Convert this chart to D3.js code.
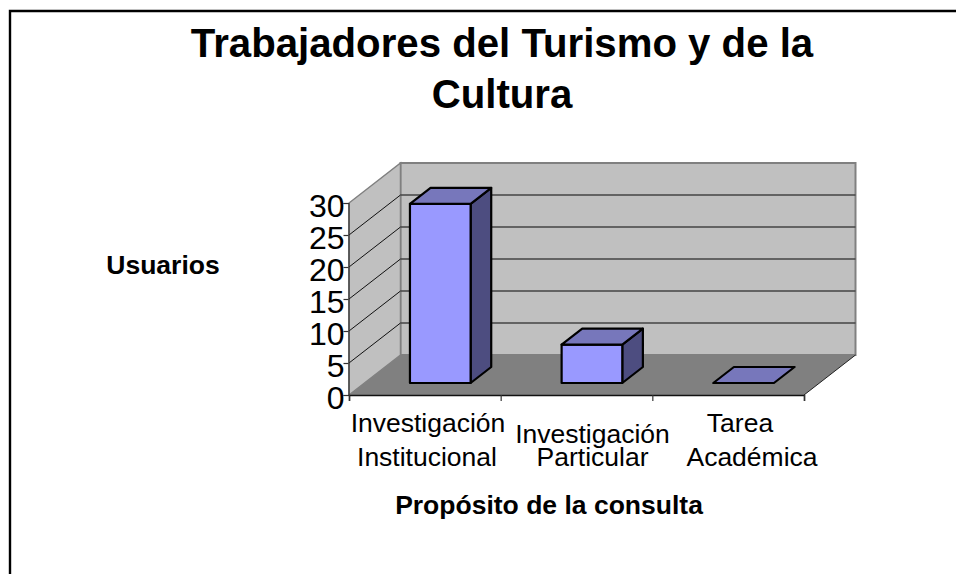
<!DOCTYPE html>
<html><head><meta charset="utf-8">
<script src="https://cdn.jsdelivr.net/npm/d3@7"></script>
<style>html,body{margin:0;padding:0;background:#fff}svg{display:block}text{font-family:"Liberation Sans",Arial,sans-serif;fill:#000}</style>
</head><body><svg id="c" width="956" height="574"></svg>
<script>
const titleLines = ["Trabajadores del Turismo y de la", "Cultura"];
const categories = ["Investigación Institucional", "Investigación Particular", "Tarea Académica"];
const categoryLines = [["Investigación", "Institucional"], ["Investigación", "Particular"], ["Tarea", "Académica"]];
const values = [28, 6, 0];
const yTicks = [0, 5, 10, 15, 20, 25, 30];
const yTitle = "Usuarios";
const xTitle = "Propósito de la consulta";

const svg = d3.select("#c");
const depthX = 51.5, depthY = 40;
const x = d3.scaleBand().domain(categories).range([349, 804]).paddingInner(0).paddingOuter(0);
const y = d3.scaleLinear().domain([0, 30]).range([395, 203]);
const bandFrac = 0.4, bandStart = 0.3;
const P = (px, v, d) => [px + d * depthX, y(v) - d * depthY];
const path = pts => "M" + pts.map(p => p.join(",")).join("L") + "Z";

// frame
svg.append("path").attr("d", "M10,574V11H956").attr("fill", "none").attr("stroke", "#000").attr("stroke-width", 2.4);

const x0 = x.range()[0], x1 = x.range()[1], v0 = 0, v1 = 30;
// walls
svg.append("path").attr("d", path([P(x0,v0,1),P(x1,v0,1),P(x1,v1,1),P(x0,v1,1)])).attr("fill", "#c0c0c0").attr("stroke", "#808080").attr("stroke-width", 2);
svg.append("path").attr("d", path([P(x0,v0,0),P(x0,v0,1),P(x0,v1,1),P(x0,v1,0)])).attr("fill", "#c0c0c0").attr("stroke", "#808080").attr("stroke-width", 1.5);
// floor
svg.append("path").attr("d", path([P(x0,v0,0),P(x1,v0,0),P(x1,v0,1),P(x0,v0,1)])).attr("fill", "#808080");
svg.append("line").attr("x1", P(x1,v0,0)[0]).attr("y1", P(x1,v0,0)[1]).attr("x2", P(x1,v0,1)[0]).attr("y2", P(x1,v0,1)[1]).attr("stroke", "#222").attr("stroke-width", 1);
// gridlines
yTicks.filter(t => t > 0 && t < 30).forEach(t => {
  const a = P(x0,t,0), b = P(x0,t,1), c = P(x1,t,1);
  svg.append("line").attr("x1",a[0]).attr("y1",a[1]).attr("x2",b[0]).attr("y2",b[1]).attr("stroke","#111").attr("stroke-width",1);
  svg.append("line").attr("x1",b[0]).attr("y1",b[1]).attr("x2",c[0]).attr("y2",c[1]).attr("stroke","#444").attr("stroke-width",1.4);
});
// bars
const bars = svg.append("g").attr("stroke", "#000").attr("stroke-width", 2.2).attr("stroke-linejoin", "round");
categories.forEach((cat, i) => {
  const v = values[i], b = x.bandwidth();
  const l = x(cat) + b * bandStart, r = l + b * bandFrac;
  const d0 = 0.3, d1 = 0.7;
  if (v > 0) {
    bars.append("path").attr("d", path([P(r,0,d0),P(r,0,d1),P(r,v,d1),P(r,v,d0)])).attr("fill", "#4d4d80");
    bars.append("path").attr("d", path([P(l,0,d0),P(r,0,d0),P(r,v,d0),P(l,v,d0)])).attr("fill", "#9999ff");
  }
  bars.append("path").attr("d", path([P(l,v,d0),P(r,v,d0),P(r,v,d1),P(l,v,d1)])).attr("fill", "#7777bb");
});
// axes
const gy = svg.append("g").attr("transform", "translate(348.5,0)").call(d3.axisLeft(y).tickValues(yTicks).tickSize(5).tickPadding(-1));
gy.selectAll("text").style("font-size", "32px").attr("dy", "13px");
gy.selectAll("line,path").attr("stroke", "#333").attr("stroke-width", 1.2);
const gx = svg.append("g").attr("transform", "translate(0,395)").call(d3.axisBottom(d3.scaleLinear().domain([0,3]).range([349,804])).tickValues([0,1,2,3]).tickSize(6).tickFormat(""));
gx.selectAll("line").attr("stroke", "#333").attr("stroke-width", 1.2);
gx.select("path").attr("stroke", "#111").attr("stroke-width", 1.5);

// category labels
const lineCx = [[428, 427], [592.5, 592.5], [740, 752]];
const lineBase = [[432, 466], [443, 466], [432, 466]];
categoryLines.forEach((ls, i) => ls.forEach((s, j) => {
  svg.append("text").attr("x", lineCx[i][j]).attr("y", lineBase[i][j]).attr("text-anchor", "middle").style("font-size", "26.5px").text(s);
}));
// titles
titleLines.forEach((s, i) => svg.append("text").attr("x", 502).attr("y", 57 + i * 50.5).attr("text-anchor", "middle").style("font-size", "40.2px").style("font-weight", "bold").text(s));
svg.append("text").attr("x", 163).attr("y", 274).attr("text-anchor", "middle").style("font-size", "26.5px").style("font-weight", "bold").text(yTitle);
svg.append("text").attr("x", 549).attr("y", 514).attr("text-anchor", "middle").style("font-size", "26.5px").style("font-weight", "bold").text(xTitle);
</script></body></html>
